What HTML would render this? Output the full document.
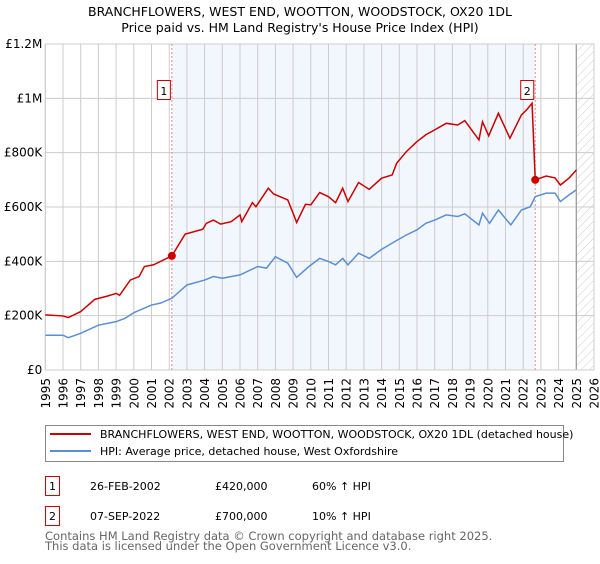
<!DOCTYPE html>
<html><head><meta charset="utf-8"><style>
body{margin:0;background:#fff;font-family:"DejaVu Sans","Liberation Sans",sans-serif;}
</style></head><body>
<svg width="600" height="560" xmlns="http://www.w3.org/2000/svg" style="font-family:'DejaVu Sans','Liberation Sans',sans-serif">
<defs><pattern id="hatch" width="6" height="6" patternUnits="userSpaceOnUse" patternTransform="rotate(45)"><line x1="0" y1="0" x2="0" y2="6" stroke="#ccc" stroke-width="1"/></pattern></defs>
<text x="300" y="16" text-anchor="middle" font-size="12.5" fill="#000">BRANCHFLOWERS, WEST END, WOOTTON, WOODSTOCK, OX20 1DL</text>
<text x="300" y="32" text-anchor="middle" font-size="12.5" fill="#000">Price paid vs. HM Land Registry's House Price Index (HPI)</text>
<g id="plot"></g>
<g>
<rect x="45.5" y="425.5" width="518" height="36" fill="#fff" stroke="#888"/>
<line x1="50" y1="434" x2="91" y2="434" stroke="#cc0000" stroke-width="2"/>
<text x="100" y="438" font-size="11">BRANCHFLOWERS, WEST END, WOOTTON, WOODSTOCK, OX20 1DL (detached house)</text>
<line x1="50" y1="451" x2="91" y2="451" stroke="#5b8fd4" stroke-width="2"/>
<text x="100" y="455" font-size="11">HPI: Average price, detached house, West Oxfordshire</text>
</g>
<g font-size="11">
<rect x="45.5" y="476.5" width="14" height="19" fill="#fff" stroke="#cc0000"/><text x="52.5" y="490" text-anchor="middle">1</text>
<text x="90" y="490">26-FEB-2002</text><text x="215" y="490">£420,000</text><text x="312" y="490">60% ↑ HPI</text>
<rect x="45.5" y="506.5" width="14" height="19" fill="#fff" stroke="#cc0000"/><text x="52.5" y="520" text-anchor="middle">2</text>
<text x="90" y="520">07-SEP-2022</text><text x="215" y="520">£700,000</text><text x="312" y="520">10% ↑ HPI</text>
</g>
<text x="45" y="540" font-size="11.5" fill="#666">Contains HM Land Registry data © Crown copyright and database right 2025.</text>
<text x="45" y="550" font-size="11.5" fill="#666">This data is licensed under the Open Government Licence v3.0.</text>
</svg>
<script>
const years=[1995,1996,1996.3,1997,1998,1999,1999.5,2000,2001,2001.5,2002.15,2003,2004,2004.5,2005,2006,2007,2007.5,2008,2008.7,2009.2,2009.9,2010.5,2011,2011.4,2011.8,2012.1,2012.7,2013.3,2014,2014.75,2015.4,2016,2016.5,2017,2017.65,2018.3,2018.7,2019.5,2019.7,2020.1,2020.6,2021.3,2021.9,2022.4,2022.68,2023.3,2023.8,2024.1,2024.6,2025.0];
const hpiValues=[128,128,119,135,165,178,190,211,239,246,264,313,331,344,338,350,381,375,417,393,341,381,411,399,387,411,387,430,411,444,473,497,516,540,552,571,565,575,534,577,540,589,534,589,601,638,651,651,620,645,663];
const redYears=[1995,1996,1996.3,1997,1997.8,1998.5,1999,1999.2,1999.8,2000.3,2000.6,2001.1,2002.15,2002.9,2003.9,2004.1,2004.5,2004.9,2005.5,2006,2006.1,2006.7,2006.9,2007.6,2007.9,2008.7,2009.0,2009.2,2009.7,2010.0,2010.5,2011,2011.4,2011.8,2012.1,2012.7,2013.3,2014,2014.6,2014.85,2015.4,2016,2016.5,2017,2017.65,2018.3,2018.7,2019.5,2019.7,2020.05,2020.6,2021.25,2021.9,2022.2,2022.5,2022.68,2023.3,2023.8,2024.1,2024.6,2025.0];
const redValues=[203,199,193,215,260,272,282,275,331,344,381,387,420,500,518,540,552,537,546,571,546,616,601,669,648,626,577,543,610,608,653,638,616,669,620,690,665,706,718,761,804,841,866,884,908,902,918,847,914,862,945,853,939,958,982,700,714,707,681,707,736];
const yTicks=[0,200,400,600,800,1000,1200];
const yTickLabels=["£0","£200K","£400K","£600K","£800K","£1M","£1.2M"];
const xTicks=[1995,1996,1997,1998,1999,2000,2001,2002,2003,2004,2005,2006,2007,2008,2009,2010,2011,2012,2013,2014,2015,2016,2017,2018,2019,2020,2021,2022,2023,2024,2025,2026];
const sales=[{label:"1",year:2002.15,value:420},{label:"2",year:2022.68,value:700}];
const X0=45.3,X1=594,Y0=370,Y1=44;
const xs=y=>X0+(y-1995)/(2026-1995)*(X1-X0);
const ys=v=>Y0-v/1200*(Y0-Y1);
const NS="http://www.w3.org/2000/svg";
const g=document.getElementById('plot');
function mk(t,a,p){const e=document.createElementNS(NS,t);for(const k in a)e.setAttribute(k,a[k]);(p||g).appendChild(e);return e;}
let e=mk('rect',{x:xs(sales[0].year),y:Y1,width:xs(sales[1].year)-xs(sales[0].year),height:Y0-Y1,fill:'#f2f6fd'});


e=mk('rect',{x:xs(2025),y:Y1,width:X1-xs(2025),height:Y0-Y1,fill:'url(#hatch)'});


xTicks.forEach(t=>{
 const l=mk('line',{x1:xs(t),x2:xs(t),y1:Y1,y2:Y0,stroke:'#ccc','stroke-width':1});
 
 
 const tx=mk('text',{x:0,y:0,'font-size':12,'text-anchor':'end',transform:`translate(${xs(t)+4.5},${Y0+8}) rotate(-90)`});
 tx.textContent=t;
 
 
});
yTicks.forEach((t,i)=>{
 const l=mk('line',{x1:X0,x2:X1,y1:ys(t),y2:ys(t),stroke:'#ccc','stroke-width':1});
 
 
 const tx=mk('text',{x:X0-3,y:ys(t)+4,'font-size':12,'text-anchor':'end'});
 tx.textContent=yTickLabels[i];
 
 
});
e=mk('line',{x1:xs(2025),x2:xs(2025),y1:Y1,y2:Y0,stroke:'#999','stroke-width':1.2});


e=mk('rect',{x:X0,y:Y1,width:X1-X0,height:Y0-Y1,fill:'none',stroke:'#ccc'});


sales.forEach(s=>{
 const l=mk('line',{x1:xs(s.year),x2:xs(s.year),y1:Y1,y2:Y0,stroke:'#e88','stroke-width':1,'stroke-dasharray':'2,2'});
 
 
});
e=mk('polyline',{points:years.map((y,i)=>xs(y)+','+ys(hpiValues[i])).join(' '),fill:'none',stroke:'#5b8fd4','stroke-width':1.5});


e=mk('polyline',{points:redYears.map((y,i)=>xs(y)+','+ys(redValues[i])).join(' '),fill:'none',stroke:'#cc0000','stroke-width':1.5});


sales.forEach(s=>{
 const c=mk('circle',{cx:xs(s.year),cy:ys(s.value),r:4,fill:'#cc0000'});
 
 
 const r=mk('rect',{x:xs(s.year)-14.5,y:80.5,width:13,height:19,fill:'#fff',stroke:'#cc0000'});
 
 
 const t=mk('text',{x:xs(s.year)-8,y:95,'font-size':11,'text-anchor':'middle'});
 t.textContent=s.label;
 
 
});
</script>
</body></html>
